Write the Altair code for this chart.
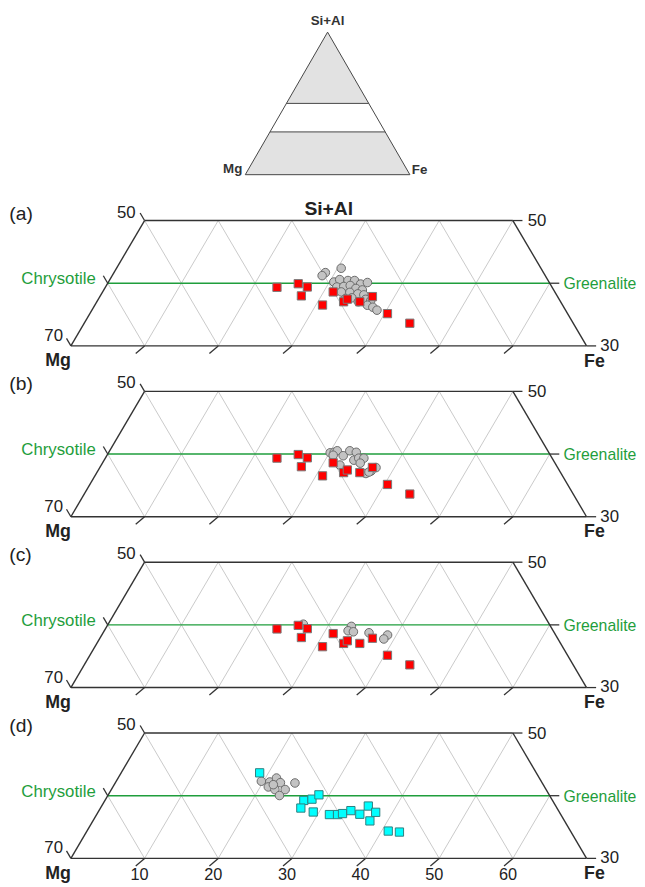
import altair as alt
import pandas as pd
import math

# ---------------- data : ternary values (Fe, Si+Al) in %, Mg = 100 - Fe - Si+Al
red_fe = [23.3, 25.9, 27.4, 27.3, 30.9, 31.3, 33.5, 33.8, 35.7, 37.0, 40.4, 44.2]
red_si = [39.35, 39.92, 39.40, 37.98, 36.52, 38.61, 37.04, 37.46, 37.04, 37.87, 35.15, 33.62]

gray_a_fe = [30.5, 28.7, 28.5, 30.6, 31.2, 32.4, 33.3, 34.4, 35.2, 31.4, 32.3, 33.1, 34.1,
             35.1, 32.4, 33.6, 34.8, 35.7, 34.3, 36.3, 37.1, 37.0, 37.9, 38.7, 33.5, 35.5]
gray_a_si = [42.39, 41.69, 41.21, 40.19, 40.58, 40.43, 40.43, 39.87, 40.11, 39.40, 39.48, 39.64, 39.17,
             38.93, 38.61, 38.54, 38.30, 38.14, 37.67, 37.43, 37.20, 36.49, 36.17, 35.70, 37.51, 37.04]

gray_b_fe = [30.1, 30.6, 30.9, 30.7, 32.1, 32.6, 33.6, 33.9, 34.4, 35.1, 35.0, 32.4, 36.6, 37.1, 37.5, 36.9]
gray_b_si = [40.20, 40.28, 40.52, 39.81, 39.73, 40.52, 40.28, 39.02, 39.34, 39.34, 38.55, 38.24, 36.90, 37.29, 37.84, 37.13]

gray_c_fe = [26.5, 33.2, 33.1, 33.9, 36.1, 38.8, 38.6]
gray_c_si = [40.11, 39.76, 39.06, 38.90, 38.74, 38.38, 37.75]

gray_d_fe = [19.7, 20.9, 21.5, 21.1, 22.2, 22.4, 23.6, 23.3, 24.4, 21.6]
gray_d_si = [42.31, 42.19, 42.82, 41.40, 40.98, 42.08, 40.98, 40.03, 42.03, 41.76]

cyan_fe = [18.8, 27.0, 28.0, 28.6, 27.2, 29.2, 31.6, 32.7, 33.3, 34.2, 35.7, 36.2, 37.7, 37.6, 40.9, 42.5]
cyan_si = [43.65, 39.24, 39.45, 40.14, 38.03, 37.40, 36.99, 36.99, 37.15, 37.62, 37.04, 38.35, 37.35, 35.98, 34.36, 34.20]

grid_steps = [10, 20, 30, 40, 50, 60]        # Fe and Mg grid lines
side_values = [50, 40, 30]                   # Si+Al levels of side ticks
bottom_labels = ["10", "20", "30", "40", "50", "60"]

# ---------------- styling
FONT = "Liberation Sans, Arial, Helvetica, sans-serif"
GREEN = "#1f9e3c"
DARK = "#333333"
TXT = "#222222"
W = 636
PXX = 7.46          # horizontal px per % unit
PXY = 7.33          # vertical px per unit
XMIN = -(71.7 - 8) / PXX
XMAX = XMIN + W / PXX
H = 172.8
BOT = 147.6
YMAX = BOT / PXY
YMIN = -(H - BOT) / PXY
XS = alt.Scale(domain=[XMIN, XMAX], nice=False, zero=False)
YS = alt.Scale(domain=[YMIN, YMAX], nice=False, zero=False)
S3 = math.sqrt(3) / 2

CALC = dict(X="datum.fe + (datum.si - 30) / 2", Y="(datum.si - 30) * sqrt(3) / 2")
CALC2 = dict(X="datum.fe + (datum.si - 30) / 2", Y="(datum.si - 30) * sqrt(3) / 2",
             X2="datum.fe2 + (datum.si2 - 30) / 2", Y2="(datum.si2 - 30) * sqrt(3) / 2")


def enc_xy():
    return dict(x=alt.X("X:Q", scale=XS, axis=None), y=alt.Y("Y:Q", scale=YS, axis=None))


def seg_chart(df, color, width):
    return alt.Chart(df).transform_calculate(**CALC2).mark_rule(
        color=color, strokeWidth=width).encode(x2="X2:Q", y2="Y2:Q", **enc_xy())


def text_chart(df, align, dx, dy, size, color, weight="normal"):
    return alt.Chart(df).transform_calculate(**CALC).mark_text(
        align=align, baseline="middle", dx=dx, dy=dy, fontSize=size, font=FONT,
        color=color, fontWeight=weight).encode(text="t:N", **enc_xy())


# grid lines
g_rows = []
for f in grid_steps:                       # constant Fe
    g_rows.append(dict(fe=f, si=30, fe2=f, si2=min(50, 100 - f)))
for m in grid_steps:                       # constant Mg
    top = min(50, 100 - m)
    g_rows.append(dict(fe=70 - m, si=30, fe2=100 - top - m, si2=top))
grid_df = pd.DataFrame(g_rows)

outline_df = pd.DataFrame([
    dict(fe=0, si=30, fe2=70, si2=30), dict(fe=0, si=50, fe2=50, si2=50),
    dict(fe=0, si=30, fe2=0, si2=50), dict(fe=70, si=30, fe2=50, si2=50)])
green_df = pd.DataFrame([dict(fe=0, si=40, fe2=60, si2=40)])

t_rows = []
for f in grid_steps:
    t_rows.append(dict(fe=f, si=30, fe2=f - 0.6, si2=28.8))
for s in side_values:
    t_rows.append(dict(fe=0, si=s, fe2=-1.2, si2=s + 1.2))
    t_rows.append(dict(fe=100 - s, si=s, fe2=100 - s + 1.3, si2=s))
tick_df = pd.DataFrame(t_rows)


def one(t, fe, si):
    return pd.DataFrame({"fe": [fe], "si": [si], "t": [t]})


def pts(fe, si):
    return pd.DataFrame({"fe": fe, "si": si})


def panel(tag, gfe, gsi, sfe, ssi, sfill, sstroke, title=False, bottom=False):
    layers = [
        seg_chart(grid_df, "#c9c9c9", 1),
        seg_chart(green_df, GREEN, 1.5),
        seg_chart(outline_df, DARK, 1.4),
        seg_chart(tick_df, DARK, 1.3),
        alt.Chart(pts(gfe, gsi)).transform_calculate(**CALC).mark_point(
            shape="circle", filled=True, fill="#c3c3c3", stroke="#6b6b6b",
            strokeWidth=1, size=75, opacity=1).encode(**enc_xy()),
        alt.Chart(pts(sfe, ssi)).transform_calculate(**CALC).mark_point(
            shape="square", filled=True, fill=sfill, stroke=sstroke,
            strokeWidth=1, size=70, opacity=1).encode(**enc_xy()),
        text_chart(one(tag, 0, 50), "left", -137, -7, 19.5, TXT),
        text_chart(one("50", 0, 50), "right", -9, -8, 17, TXT),
        text_chart(one("70", 0, 30), "right", -8, -10, 17, TXT),
        text_chart(one("50", 50, 50), "left", 15, 1, 17, TXT),
        text_chart(one("30", 70, 30), "left", 14, 0, 17, TXT),
        text_chart(one("Chrysotile", 0, 40), "right", -12, -4, 17, GREEN),
        text_chart(one("Greenalite", 60, 40), "left", 14, 1, 16, GREEN),
        text_chart(one("Mg", 0, 30), "center", -13, 15.5, 18, TXT, "bold"),
        text_chart(one("Fe", 70, 30), "center", 8, 16, 18, TXT, "bold"),
    ]
    if title:
        layers.append(text_chart(one("Si+Al", 25, 50), "center", 0, -12, 19.5, TXT, "bold"))
    if bottom:
        bl = pd.DataFrame({"fe": grid_steps, "si": [30] * 6, "t": bottom_labels})
        layers.append(text_chart(bl, "center", -5, 16.5, 16.5, TXT))
    return alt.layer(*layers).properties(width=W, height=H)


# ---------------- schematic triangle (full ternary)
PX0 = 1.667
H0 = 188
BASE0 = 162.2
XS0 = alt.Scale(domain=[-(248.3 - 8) / PX0, -(248.3 - 8) / PX0 + W / PX0], nice=False, zero=False)
YS0 = alt.Scale(domain=[-(H0 - BASE0) / PX0, BASE0 / PX0], nice=False, zero=False)


def tern(fe, si):
    return fe + si / 2, si * S3


def area_df(lower, upper):
    # lower / upper: lists of (Fe, Si+Al) pairs sharing the same horizontal position
    rows = []
    for (lf, ls), (uf, us) in zip(lower, upper):
        x, lo = tern(lf, ls)
        _, hi = tern(uf, us)
        rows.append(dict(X=x, lo=lo, hi=hi))
    return pd.DataFrame(rows)


top_tri = area_df([(0, 50), (25, 50), (50, 50)], [(0, 50), (0, 100), (50, 50)])
low_band = area_df([(0, 0), (15, 0), (85, 0), (100, 0)], [(0, 0), (0, 30), (70, 30), (100, 0)])


def area_chart(df):
    return alt.Chart(df).mark_area(orient="vertical", color="#e2e2e2", opacity=1).encode(
        x=alt.X("X:Q", scale=XS0, axis=None), y=alt.Y("lo:Q", scale=YS0, axis=None), y2="hi:Q")


s_rows = []
for (a, b) in [((0, 0), (100, 0)), ((0, 0), (0, 100)), ((100, 0), (0, 100)),
               ((0, 30), (70, 30)), ((0, 50), (50, 50))]:
    x1, y1 = tern(*a)
    x2, y2 = tern(*b)
    s_rows.append(dict(X=x1, Y=y1, X2=x2, Y2=y2))
s_df = pd.DataFrame(s_rows)


def stext(t, fe, si, align, dx, dy, size):
    x, y = tern(fe, si)
    return alt.Chart(pd.DataFrame({"X": [x], "Y": [y], "t": [t]})).mark_text(
        align=align, baseline="middle", dx=dx, dy=dy, fontSize=size, font=FONT,
        fontWeight="bold", color="#333333").encode(
        x=alt.X("X:Q", scale=XS0, axis=None), y=alt.Y("Y:Q", scale=YS0, axis=None), text="t:N")


schem = alt.layer(
    area_chart(top_tri),
    area_chart(low_band),
    alt.Chart(s_df).mark_rule(color="#444444", strokeWidth=1).encode(
        x=alt.X("X:Q", scale=XS0, axis=None), y=alt.Y("Y:Q", scale=YS0, axis=None),
        x2="X2:Q", y2="Y2:Q"),
    stext("Si+Al", 0, 100, "center", 0, -11.5, 13.5),
    stext("Mg", 0, 0, "right", -3, -6, 13.5),
    stext("Fe", 100, 0, "left", 2, -5, 13.5),
).properties(width=W, height=H0)

pa = panel("(a)", gray_a_fe, gray_a_si, red_fe, red_si, "#ff0000", "#7a7a7a", title=True)
pb = panel("(b)", gray_b_fe, gray_b_si, red_fe, red_si, "#ff0000", "#7a7a7a")
pc = panel("(c)", gray_c_fe, gray_c_si, red_fe, red_si, "#ff0000", "#7a7a7a")
pd_ = panel("(d)", gray_d_fe, gray_d_si, cyan_fe, cyan_si, "#00ffff", "#2e7f7f", bottom=True)

chart = alt.vconcat(schem, pa, pb, pc, pd_, spacing=0, bounds="flush").properties(
    padding=0, background="white").configure_view(stroke=None)

chart.save("out.html", embed_options={"renderer": "svg", "actions": False})
